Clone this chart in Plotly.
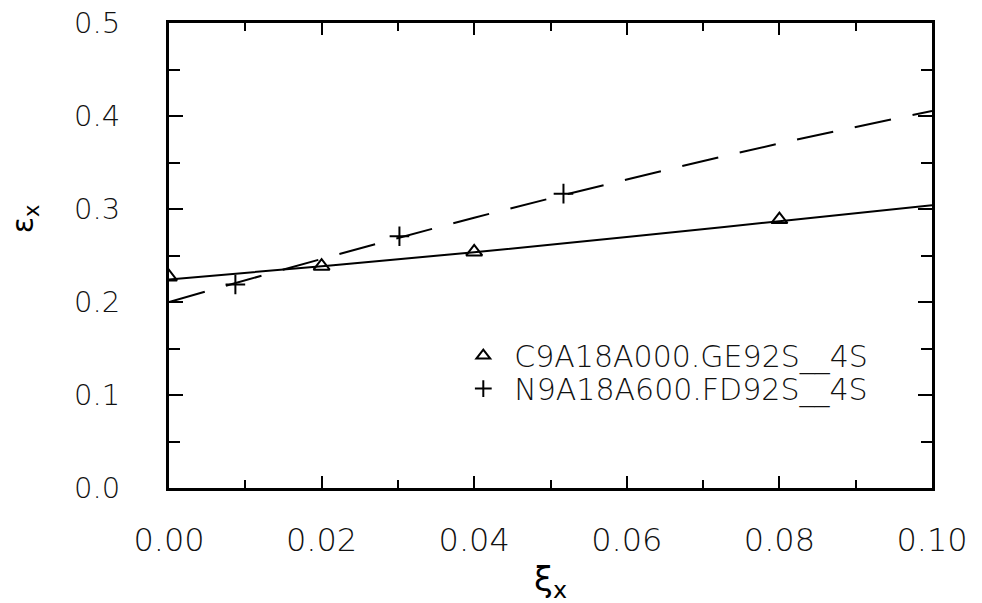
import plotly.graph_objects as go

# --- data ---
series_names = ["C9A18A000.GE92S__4S", "N9A18A600.FD92S__4S"]

# measured points (markers)
tri_x = [0.0, 0.02, 0.04, 0.08]
tri_y = [0.227, 0.2385, 0.2538, 0.2886]
plus_x = [0.0087, 0.0302, 0.0517]
plus_y = [0.2188, 0.2707, 0.3165]

# fitted curves
fit_x = [0.0, 0.02, 0.04, 0.06, 0.08, 0.10]
fit_solid_y = [0.2242, 0.2385, 0.2535, 0.2700, 0.2868, 0.3040]
fit_dash_y = [0.2000, 0.2463, 0.2906, 0.3317, 0.3705, 0.4053]

x_ticks = [0.0, 0.02, 0.04, 0.06, 0.08, 0.10]
y_ticks = [0.0, 0.1, 0.2, 0.3, 0.4, 0.5]

FONT = "DejaVu Sans"

fig = go.Figure()
fig.add_trace(go.Scatter(x=fit_x, y=fit_solid_y, mode="lines", line=dict(color="black", width=2, shape="spline"),
                         showlegend=False, hoverinfo="skip"))
fig.add_trace(go.Scatter(x=fit_x, y=fit_dash_y, mode="lines",
                         line=dict(color="black", width=2, dash="37px,22px", shape="spline"),
                         showlegend=False, hoverinfo="skip"))
fig.add_trace(go.Scatter(x=tri_x, y=tri_y, mode="markers", name=series_names[0], legend="legend",
                         marker=dict(symbol="triangle-up-open", size=14, color="black", line=dict(width=2, color="black"))))
fig.add_trace(go.Scatter(x=plus_x, y=plus_y, mode="markers", name=series_names[1], legend="legend2",
                         marker=dict(symbol="cross-thin-open", size=14, color="black", line=dict(width=2, color="black"))))

axis_common = dict(showgrid=False, zeroline=False, showline=True, linecolor="black", linewidth=3,
                   mirror="ticks", ticks="inside", tickcolor="black", tickwidth=2, automargin=False)

tick_x_font = dict(family=FONT, size=32, color="#111", weight=200)
tick_y_font = dict(family=FONT, size=29, color="#111", weight=200)

fig.update_xaxes(range=[0, 0.1], tickvals=x_ticks, tickformat=".2f", ticklen=12,
                 tickfont=tick_x_font, ticklabelstandoff=22,
                 minor=dict(dtick=0.01, ticklen=8, tickwidth=2, tickcolor="black", ticks="inside", showgrid=False),
                 **axis_common)
fig.update_yaxes(range=[0, 0.5], tickvals=y_ticks, tickformat=".1f", ticklen=14,
                 tickfont=tick_y_font, ticklabelstandoff=40,
                 minor=dict(dtick=0.05, ticklen=11, tickwidth=2, tickcolor="black", ticks="inside", showgrid=False),
                 **axis_common)

legend_font = dict(family=FONT, size=30, color="#111", weight=200)
legend_common = dict(xanchor="left", yanchor="top", bgcolor="rgba(0,0,0,0)", font=legend_font,
                     itemsizing="constant", itemwidth=52)

fig.update_layout(
    width=982, height=603,
    margin=dict(l=169, r=50, t=23, b=115),
    paper_bgcolor="white", plot_bgcolor="white",
    font=dict(family=FONT, color="black"),
    showlegend=True,
    legend=dict(x=0.3713, y=0.3406, **legend_common),
    legend2=dict(x=0.3713, y=0.2697, **legend_common),
    annotations=[
        dict(text="ε<sub>x</sub>", xref="paper", yref="paper", x=-0.19, y=0.578, xanchor="center", yanchor="middle",
             textangle=-90, showarrow=False, font=dict(family=FONT, size=30, color="black")),
        dict(text="ξ<sub>x</sub>", xref="paper", yref="paper", x=0.5, y=-0.2, xanchor="center", yanchor="middle",
             showarrow=False, font=dict(family=FONT, size=34, color="black")),
    ],
)

fig.write_html("out.html")
